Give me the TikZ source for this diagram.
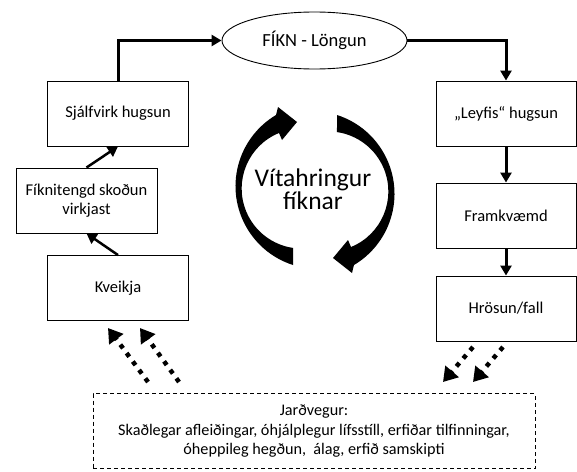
\documentclass[tikz,border=0pt]{standalone}
\usepackage{fontspec}
\setmainfont{Carlito}
\usetikzlibrary{shapes.geometric,arrows.meta}

\begin{document}
\begin{tikzpicture}[x=1pt,y=-1pt,
        box/.style={draw, rectangle, line width=0.9pt, minimum width=141pt, minimum height=65pt, inner sep=2pt, align=center, font=\fontsize{16.5}{19.5}\selectfont},
        flow/.style={draw, line width=3pt, -{Triangle[length=10pt,width=11pt]}},
        dotflow/.style={draw, line width=4.5pt, dash pattern=on 4.5pt off 6pt, -{Triangle[length=14pt,width=17pt]}}]
        \useasboundingbox (0,0) rectangle (577,471);

        \node[draw, ellipse, line width=0.9pt, minimum width=185pt, minimum height=57pt, font=\fontsize{18.5}{20}\selectfont] (lon) at (314.5,40.5) {FÍKN - Löngun};

        \node[box] (sja) at (118,113.5) {Sjálfvirk hugsun};
        \node[box] (fik) at (86.5,200.5) {Fíknitengd skoðun\\virkjast};
        \node[box] (kve) at (118,288) {Kveikja};

        \node[box, minimum width=140pt] (ley) at (506,113.5) {„Leyfis“ hugsun};
        \node[box, minimum width=140pt] (fra) at (506,215.5) {Framkvæmd};
        \node[box, minimum width=140pt] (hro) at (506,308.5) {Hrösun/fall};

        \node[draw, dash pattern=on 4pt off 3pt, line width=0.9pt, minimum width=442pt, minimum height=75pt, align=center, font=\fontsize{16.2}{19.5}\selectfont] (jar) at (314,431)
            {Jarðvegur:\\Skaðlegar afleiðingar, óhjálplegur lífsstíll, erfiðar tilfinningar,\\óheppileg hegðun,~ álag, erfið samskipti};

        \node[align=center, font=\fontsize{25.5}{23}\selectfont] (vit) at (313,189) {Vítahringur\\fíknar};

        % hringur
        \foreach \r in {0,180}
            \fill[rotate around={\r:(315,190)}] (293,265) arc[start angle=107.8, end angle=239.3, radius=82.8]
                -- (278,107) -- (297,122) -- (282,140) -- (279,133)
                arc[start angle=247.8, end angle=98.3, radius=60] -- cycle;

        \path[flow] (sja.north) |- (lon.west);
        \path[flow] (lon.east) -| (ley.north);
        \path[flow, line width=2.5pt] (fik.north) -- (sja.south);
        \path[flow, line width=2.5pt] (kve.north) -- (fik.south);
        \path[flow] (ley.south) -- (fra.north);
        \path[flow] (fra.south) -- (hro.north);

        \coordinate (a1) at (148,382);
        \coordinate (a2) at (179,382);
        \coordinate (b1) at (108,328);
        \coordinate (b2) at (140,328);
        \coordinate (c1) at (473,347);
        \coordinate (c2) at (503,347);
        \coordinate (d1) at (443,382);
        \coordinate (d2) at (473,382);
        \path[dotflow] (a1) -- (b1);
        \path[dotflow] (a2) -- (b2);
        \path[dotflow] (c1) -- (d1);
        \path[dotflow] (c2) -- (d2);
    \end{tikzpicture}
\end{document}
